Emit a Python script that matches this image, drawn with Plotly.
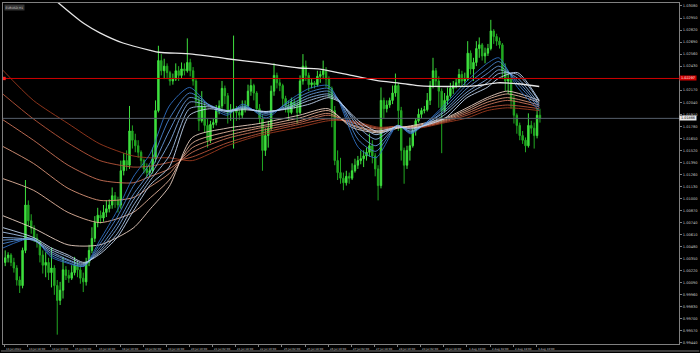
import plotly.graph_objects as go

# ---------------- candle data (EURUSD, 2-hour granularity) ----------------
open_ = [1.0031, 1.0036, 1.0039, 1.0031, 1.0025, 1.0012, 1.0006, 1.0044, 1.0093, 1.0076,
         1.0068, 1.0057, 1.0053, 1.0039, 1.0028, 1.0031, 1.0020, 1.0025, 1.0006, 0.9990,
         1.0001, 1.0023, 1.0017, 1.0014, 1.0020, 1.0028, 1.0023, 1.0014, 1.0010, 1.0031,
         1.0044, 1.0057, 1.0074, 1.0082, 1.0079, 1.0085, 1.0089, 1.0093, 1.0103, 1.0098,
         1.0093, 1.0130, 1.0141, 1.0136, 1.0173, 1.0163, 1.0157, 1.0150, 1.0141, 1.0132,
         1.0128, 1.0130, 1.0143, 1.0195, 1.0249, 1.0238, 1.0243, 1.0236, 1.0227, 1.0229,
         1.0238, 1.0233, 1.0240, 1.0238, 1.0247, 1.0238, 1.0227, 1.0206, 1.0184, 1.0200,
         1.0179, 1.0163, 1.0180, 1.0182, 1.0195, 1.0200, 1.0219, 1.0211, 1.0193, 1.0195,
         1.0197, 1.0193, 1.0190, 1.0197, 1.0200, 1.0216, 1.0222, 1.0214, 1.0197, 1.0186,
         1.0152, 1.0168, 1.0176, 1.0216, 1.0233, 1.0225, 1.0222, 1.0208, 1.0200, 1.0193,
         1.0204, 1.0201, 1.0193, 1.0227, 1.0243, 1.0233, 1.0223, 1.0225, 1.0223, 1.0232,
         1.0234, 1.0238, 1.0229, 1.0219, 1.0195, 1.0141, 1.0128, 1.0122, 1.0117, 1.0124,
         1.0122, 1.0130, 1.0136, 1.0141, 1.0143, 1.0146, 1.0150, 1.0157, 1.0146, 1.0132,
         1.0114, 1.0206, 1.0197, 1.0201, 1.0206, 1.0214, 1.0222, 1.0195, 1.0152, 1.0136,
         1.0152, 1.0157, 1.0173, 1.0184, 1.0191, 1.0195, 1.0196, 1.0206, 1.0222, 1.0238,
         1.0227, 1.0216, 1.0195, 1.0206, 1.0211, 1.0219, 1.0222, 1.0225, 1.0234, 1.0227,
         1.0229, 1.0257, 1.0240, 1.0247, 1.0262, 1.0266, 1.0254, 1.0257, 1.0262, 1.0281,
         1.0275, 1.0270, 1.0266, 1.0238, 1.0227, 1.0229, 1.0206, 1.0190, 1.0179, 1.0168,
         1.0163, 1.0157, 1.0179, 1.0176, 1.0168, 1.0190]

high = [1.0044, 1.0042, 1.0041, 1.0036, 1.0028, 1.0016, 1.0047, 1.0120, 1.0098, 1.0083,
        1.0071, 1.0062, 1.0055, 1.0044, 1.0042, 1.0036, 1.0047, 1.0028, 1.0012, 1.0010,
        1.0037, 1.0027, 1.0023, 1.0028, 1.0037, 1.0033, 1.0028, 1.0020, 1.0036, 1.0050,
        1.0069, 1.0081, 1.0090, 1.0087, 1.0093, 1.0098, 1.0099, 1.0112, 1.0107, 1.0102,
        1.0141, 1.0149, 1.0152, 1.0200, 1.0179, 1.0170, 1.0163, 1.0152, 1.0143, 1.0138,
        1.0136, 1.0155, 1.0206, 1.0265, 1.0256, 1.0251, 1.0246, 1.0238, 1.0235, 1.0246,
        1.0243, 1.0247, 1.0246, 1.0273, 1.0251, 1.0242, 1.0229, 1.0211, 1.0216, 1.0204,
        1.0186, 1.0184, 1.0186, 1.0201, 1.0206, 1.0227, 1.0222, 1.0214, 1.0202, 1.0276,
        1.0200, 1.0197, 1.0206, 1.0206, 1.0223, 1.0229, 1.0224, 1.0216, 1.0202, 1.0190,
        1.0176, 1.0184, 1.0222, 1.0246, 1.0236, 1.0230, 1.0224, 1.0211, 1.0206, 1.0209,
        1.0208, 1.0206, 1.0233, 1.0256, 1.0249, 1.0236, 1.0229, 1.0227, 1.0238, 1.0238,
        1.0249, 1.0242, 1.0232, 1.0221, 1.0200, 1.0152, 1.0144, 1.0128, 1.0130, 1.0128,
        1.0138, 1.0143, 1.0146, 1.0152, 1.0152, 1.0155, 1.0170, 1.0163, 1.0149, 1.0136,
        1.0220, 1.0209, 1.0206, 1.0209, 1.0222, 1.0235, 1.0225, 1.0199, 1.0155, 1.0157,
        1.0166, 1.0179, 1.0187, 1.0197, 1.0198, 1.0200, 1.0214, 1.0227, 1.0252, 1.0241,
        1.0232, 1.0219, 1.0214, 1.0220, 1.0225, 1.0227, 1.0230, 1.0240, 1.0238, 1.0236,
        1.0270, 1.0260, 1.0252, 1.0270, 1.0274, 1.0268, 1.0263, 1.0267, 1.0293, 1.0283,
        1.0278, 1.0274, 1.0268, 1.0246, 1.0238, 1.0232, 1.0211, 1.0192, 1.0182, 1.0173,
        1.0166, 1.0192, 1.0184, 1.0182, 1.0198, 1.0197]

low = [1.0027, 1.0031, 1.0027, 1.0020, 1.0006, 0.9998, 1.0003, 1.0041, 1.0070, 1.0062,
       1.0053, 1.0047, 1.0031, 1.0019, 1.0015, 1.0012, 1.0004, 0.9996, 0.9953, 0.9985,
       0.9992, 1.0012, 1.0009, 1.0012, 1.0017, 1.0015, 1.0008, 0.9999, 1.0006, 1.0027,
       1.0041, 1.0053, 1.0069, 1.0073, 1.0075, 1.0080, 1.0085, 1.0089, 1.0090, 1.0085,
       1.0089, 1.0125, 1.0130, 1.0132, 1.0154, 1.0150, 1.0144, 1.0134, 1.0127, 1.0122,
       1.0124, 1.0127, 1.0139, 1.0193, 1.0233, 1.0229, 1.0229, 1.0222, 1.0223, 1.0227,
       1.0227, 1.0230, 1.0233, 1.0236, 1.0232, 1.0222, 1.0200, 1.0173, 1.0182, 1.0171,
       1.0155, 1.0160, 1.0176, 1.0179, 1.0191, 1.0197, 1.0202, 1.0181, 1.0184, 1.0154,
       1.0184, 1.0185, 1.0187, 1.0193, 1.0198, 1.0211, 1.0206, 1.0193, 1.0181, 1.0130,
       1.0146, 1.0155, 1.0173, 1.0211, 1.0219, 1.0216, 1.0198, 1.0193, 1.0184, 1.0191,
       1.0197, 1.0181, 1.0191, 1.0223, 1.0227, 1.0216, 1.0219, 1.0219, 1.0221, 1.0225,
       1.0229, 1.0220, 1.0209, 1.0177, 1.0136, 1.0120, 1.0116, 1.0109, 1.0114, 1.0116,
       1.0120, 1.0128, 1.0132, 1.0137, 1.0134, 1.0141, 1.0145, 1.0138, 1.0124, 1.0098,
       1.0111, 1.0187, 1.0193, 1.0198, 1.0202, 1.0210, 1.0173, 1.0141, 1.0116, 1.0132,
       1.0141, 1.0155, 1.0168, 1.0182, 1.0187, 1.0192, 1.0194, 1.0201, 1.0219, 1.0221,
       1.0198, 1.0149, 1.0193, 1.0201, 1.0209, 1.0213, 1.0219, 1.0221, 1.0220, 1.0222,
       1.0227, 1.0234, 1.0227, 1.0243, 1.0252, 1.0249, 1.0246, 1.0254, 1.0260, 1.0267,
       1.0265, 1.0262, 1.0229, 1.0216, 1.0213, 1.0197, 1.0181, 1.0170, 1.0163, 1.0159,
       1.0150, 1.0155, 1.0170, 1.0154, 1.0165, 1.0182]

close = [1.0036, 1.0039, 1.0031, 1.0025, 1.0012, 1.0006, 1.0044, 1.0093, 1.0076, 1.0068,
         1.0057, 1.0053, 1.0039, 1.0028, 1.0031, 1.0020, 1.0025, 1.0006, 0.9990, 1.0001,
         1.0023, 1.0017, 1.0014, 1.0020, 1.0028, 1.0023, 1.0014, 1.0010, 1.0031, 1.0044,
         1.0057, 1.0074, 1.0082, 1.0079, 1.0085, 1.0089, 1.0093, 1.0103, 1.0098, 1.0093,
         1.0130, 1.0141, 1.0136, 1.0173, 1.0163, 1.0157, 1.0150, 1.0141, 1.0132, 1.0128,
         1.0130, 1.0143, 1.0195, 1.0249, 1.0238, 1.0243, 1.0236, 1.0227, 1.0229, 1.0238,
         1.0233, 1.0240, 1.0238, 1.0247, 1.0238, 1.0227, 1.0206, 1.0184, 1.0200, 1.0179,
         1.0163, 1.0180, 1.0182, 1.0195, 1.0200, 1.0219, 1.0211, 1.0193, 1.0195, 1.0197,
         1.0193, 1.0190, 1.0197, 1.0200, 1.0216, 1.0222, 1.0214, 1.0197, 1.0186, 1.0152,
         1.0168, 1.0176, 1.0216, 1.0233, 1.0225, 1.0222, 1.0208, 1.0200, 1.0193, 1.0204,
         1.0201, 1.0193, 1.0227, 1.0243, 1.0233, 1.0223, 1.0225, 1.0223, 1.0232, 1.0234,
         1.0238, 1.0229, 1.0219, 1.0195, 1.0141, 1.0128, 1.0122, 1.0117, 1.0124, 1.0122,
         1.0130, 1.0136, 1.0141, 1.0143, 1.0146, 1.0150, 1.0157, 1.0146, 1.0132, 1.0114,
         1.0206, 1.0197, 1.0201, 1.0206, 1.0214, 1.0222, 1.0195, 1.0152, 1.0136, 1.0152,
         1.0157, 1.0173, 1.0184, 1.0191, 1.0195, 1.0196, 1.0206, 1.0222, 1.0238, 1.0227,
         1.0216, 1.0195, 1.0206, 1.0211, 1.0219, 1.0222, 1.0225, 1.0234, 1.0227, 1.0229,
         1.0257, 1.0240, 1.0247, 1.0262, 1.0266, 1.0254, 1.0257, 1.0262, 1.0281, 1.0275,
         1.0270, 1.0266, 1.0238, 1.0227, 1.0229, 1.0206, 1.0190, 1.0179, 1.0168, 1.0163,
         1.0157, 1.0179, 1.0176, 1.0168, 1.0190, 1.01866]

# ---------------- moving-average lines (read at sample bar indices) ----------------
white_x = [18, 36, 55, 66, 82, 101, 107, 130, 154, 181, 204, 217, 240, 259, 272, 286, 309, 327, 341, 355, 370]
white_ma = [1.0338, 1.0313, 1.0289, 1.0279, 1.0268, 1.0260, 1.0258, 1.0256, 1.0251, 1.0246, 1.0241,
            1.0240, 1.0233, 1.0227, 1.0225, 1.0222, 1.0221, 1.0222, 1.0225, 1.0224, 1.0221]

blue_x = [-2, 20, 32, 44, 55, 66, 78, 89, 101, 114, 128, 142, 154, 165, 181, 197, 211, 224, 231,
          245, 257, 272, 281, 291, 305, 320, 334, 342, 355, 370]
blue_1 = [1.0046, 1.0057, 1.0037, 1.0030, 1.0027, 1.0055, 1.0087, 1.0123, 1.0149, 1.0200, 1.0220,
          1.0200, 1.0190, 1.0202, 1.0187, 1.0206, 1.0219, 1.0222, 1.0206, 1.0155, 1.0144, 1.0179,
          1.0170, 1.0181, 1.0202, 1.0227, 1.0246, 1.0252, 1.0220, 1.0195]
blue_2 = [1.0051, 1.0056, 1.0039, 1.0031, 1.0027, 1.0051, 1.0080, 1.0113, 1.0139, 1.0186, 1.0214,
          1.0201, 1.0192, 1.0200, 1.0190, 1.0204, 1.0215, 1.0219, 1.0207, 1.0163, 1.0151, 1.0179,
          1.0171, 1.0181, 1.0199, 1.0223, 1.0240, 1.0248, 1.0224, 1.0198]
blue_3 = [1.0055, 1.0055, 1.0041, 1.0033, 1.0028, 1.0047, 1.0073, 1.0104, 1.0130, 1.0173, 1.0209,
          1.0201, 1.0194, 1.0199, 1.0192, 1.0201, 1.0212, 1.0216, 1.0207, 1.0170, 1.0157, 1.0179,
          1.0172, 1.0180, 1.0196, 1.0219, 1.0235, 1.0243, 1.0227, 1.0200]
blue_4 = [1.0058, 1.0055, 1.0043, 1.0034, 1.0029, 1.0044, 1.0068, 1.0098, 1.0125, 1.0160, 1.0204,
          1.0200, 1.0195, 1.0198, 1.0193, 1.0199, 1.0209, 1.0213, 1.0207, 1.0177, 1.0164, 1.0179,
          1.0173, 1.0180, 1.0194, 1.0215, 1.0229, 1.0239, 1.0230, 1.0202]
blue_5 = [1.0064, 1.0056, 1.0045, 1.0037, 1.0030, 1.0042, 1.0062, 1.0092, 1.0120, 1.0146, 1.0197,
          1.0199, 1.0195, 1.0197, 1.0194, 1.0198, 1.0206, 1.0211, 1.0206, 1.0181, 1.0169, 1.0178,
          1.0175, 1.0179, 1.0191, 1.0212, 1.0225, 1.0235, 1.0234, 1.0205]
blue_6 = [1.0069, 1.0058, 1.0047, 1.0039, 1.0031, 1.0040, 1.0058, 1.0086, 1.0115, 1.0134, 1.0190,
          1.0197, 1.0194, 1.0196, 1.0194, 1.0197, 1.0202, 1.0209, 1.0205, 1.0184, 1.0173, 1.0177,
          1.0176, 1.0179, 1.0187, 1.0209, 1.0220, 1.0230, 1.0236, 1.0206]

red_x = [-2, 20, 44, 66, 89, 101, 114, 130, 154, 176, 204, 224, 240, 259, 272, 286, 305, 320, 334, 348, 370]
red_1 = [1.0240, 1.0206, 1.0181, 1.0159, 1.0146, 1.0144, 1.0144, 1.0141, 1.0157, 1.0168, 1.0177,
         1.0184, 1.0184, 1.0177, 1.0178, 1.0176, 1.0182, 1.0187, 1.0195, 1.0198, 1.0195]
red_2 = [1.0214, 1.0186, 1.0160, 1.0141, 1.0134, 1.0135, 1.0139, 1.0145, 1.0160, 1.0170, 1.0180,
         1.0186, 1.0183, 1.0176, 1.0178, 1.0177, 1.0183, 1.0190, 1.0198, 1.0201, 1.0197]
red_3 = [1.0186, 1.0163, 1.0136, 1.0120, 1.0117, 1.0124, 1.0132, 1.0150, 1.0165, 1.0173, 1.0182,
         1.0190, 1.0182, 1.0175, 1.0177, 1.0177, 1.0184, 1.0192, 1.0201, 1.0206, 1.0199]
red_4 = [1.0157, 1.0138, 1.0111, 1.0098, 1.0101, 1.0113, 1.0127, 1.0155, 1.0168, 1.0176, 1.0184,
         1.0192, 1.0180, 1.0173, 1.0177, 1.0178, 1.0185, 1.0194, 1.0204, 1.0209, 1.0201]
red_5 = [1.0122, 1.0109, 1.0085, 1.0074, 1.0085, 1.0101, 1.0120, 1.0160, 1.0172, 1.0178, 1.0187,
         1.0195, 1.0179, 1.0172, 1.0176, 1.0179, 1.0186, 1.0196, 1.0207, 1.0213, 1.0204]
red_6 = [1.0082, 1.0068, 1.0050, 1.0050, 1.0068, 1.0089, 1.0113, 1.0166, 1.0176, 1.0181, 1.0190,
         1.0197, 1.0177, 1.0171, 1.0176, 1.0180, 1.0187, 1.0198, 1.0209, 1.0216, 1.0206]

hline_price = 1.02297
bid_price = 1.01866

# ---------------- axis labels ----------------
x_label_pos = [0, 16, 32, 48, 64, 80, 96, 112, 128, 144, 160, 176, 192, 208, 224, 240,
               256, 272, 288, 304, 320, 336, 352, 368]
x_labels = ["13 Jul 2022", "13 Jul 18:00", "14 Jul 10:00", "15 Jul 02:00", "15 Jul 18:00",
            "18 Jul 10:00", "19 Jul 02:00", "19 Jul 18:00", "20 Jul 10:00", "21 Jul 02:00",
            "21 Jul 18:00", "22 Jul 10:00", "25 Jul 02:00", "25 Jul 18:00", "26 Jul 10:00",
            "27 Jul 02:00", "27 Jul 18:00", "28 Jul 10:00", "29 Jul 02:00", "29 Jul 18:00",
            "1 Aug 10:00", "2 Aug 02:00", "2 Aug 18:00", "3 Aug 10:00"]
# price-scale ticks; the 1.02300 label is hidden behind the red line's price tag
y_tick_values = [0.9944, 0.9957, 0.9970, 0.9983, 0.9996, 1.0009, 1.0022, 1.0035, 1.0048, 1.0061,
                 1.0074, 1.0087, 1.0100, 1.0113, 1.0126, 1.0139, 1.0152, 1.0165, 1.0178, 1.0191,
                 1.0204, 1.0217, 1.0230, 1.0243, 1.0256, 1.0269, 1.0282, 1.0295, 1.0308]
y_tick_labels = ["0.99440", "0.99570", "0.99700", "0.99830", "0.99960", "1.00090", "1.00220",
                 "1.00350", "1.00480", "1.00610", "1.00740", "1.00870", "1.01000", "1.01130",
                 "1.01260", "1.01390", "1.01520", "1.01650", "1.01780", "1.01910", "1.02040",
                 "1.02170", "", "1.02430", "1.02560", "1.02690", "1.02820", "1.02950",
                 "1.03080"]

# ---------------- figure ----------------
cx = [2 * k + 0.5 for k in range(len(close))]

fig = go.Figure()
fig.add_trace(go.Candlestick(
    x=cx, open=open_, high=high, low=low, close=close,
    increasing=dict(line=dict(color="#3ee03e", width=1), fillcolor="#3ee03e"),
    decreasing=dict(line=dict(color="#22a822", width=1), fillcolor="#22a822"),
    whiskerwidth=0, hoverinfo="skip"))

red_cols = ["#9c3a1e", "#b8553a", "#cc7358", "#da9478", "#e3b39c", "#ead0c2"]
for ys, col in zip([red_1, red_2, red_3, red_4, red_5, red_6], red_cols):
    fig.add_trace(go.Scatter(x=red_x, y=ys, mode="lines",
                             line=dict(color=col, width=0.9, shape="spline", smoothing=0.7),
                             hoverinfo="skip"))

blue_cols = ["#2f6fc4", "#4a84ce", "#6699d8", "#84aee0", "#a3c2e8", "#c3d6ef"]
for ys, col in zip([blue_1, blue_2, blue_3, blue_4, blue_5, blue_6], blue_cols):
    fig.add_trace(go.Scatter(x=blue_x, y=ys, mode="lines",
                             line=dict(color=col, width=0.9, shape="spline", smoothing=0.7),
                             hoverinfo="skip"))

fig.add_trace(go.Scatter(x=white_x, y=white_ma, mode="lines",
                         line=dict(color="#e6e6e6", width=1.3, shape="spline", smoothing=0.8),
                         hoverinfo="skip"))

shapes = [
    dict(type="line", xref="paper", yref="y", x0=0, x1=1, y0=hline_price, y1=hline_price,
         line=dict(color="#d00000", width=1)),
    dict(type="line", xref="paper", yref="y", x0=0, x1=1, y0=bid_price, y1=bid_price,
         line=dict(color="#56606c", width=1)),
    dict(type="rect", xref="paper", yref="y", x0=0.0, x1=0.004,
         y0=hline_price - 0.00018, y1=hline_price + 0.00018,
         fillcolor="#ff2020", line=dict(width=0)),
    dict(type="line", xref="paper", yref="paper", x0=-0.003, x1=1.03, y0=-0.0205, y1=-0.0205,
         line=dict(color="#7a7a7a", width=1)),
]

annotations = []
for pos, lab in zip(x_label_pos, x_labels):
    annotations.append(dict(x=pos - 0.3, y=-0.002, xref="x", yref="paper", text=lab,
                            showarrow=False, xanchor="left", yanchor="top",
                            font=dict(size=2.7, color="#c8c8c8", family="DejaVu Sans")))
annotations += [
    dict(x=1.0, y=hline_price, xref="paper", yref="y", text="1.02297", showarrow=False,
         xanchor="left", yanchor="middle", bgcolor="#d00000", borderpad=0, width=16, height=4,
         font=dict(size=3.4, color="#ffffff", family="DejaVu Sans")),
    dict(x=1.0, y=bid_price, xref="paper", yref="y", text="1.01866", showarrow=False,
         xanchor="left", yanchor="middle", bgcolor="#e8e8e8", borderpad=0, width=16, height=4,
         font=dict(size=3.4, color="#000000", family="DejaVu Sans")),
    dict(x=0.0015, y=0.997, xref="paper", yref="paper", text="EURUSD,H1", showarrow=False,
         xanchor="left", yanchor="top", bgcolor="#333333", borderpad=0.5,
         font=dict(size=3, color="#d0d0d0", family="DejaVu Sans")),
]

fig.update_layout(
    width=700, height=353,
    margin=dict(l=2, r=17, t=2, b=9),
    paper_bgcolor="#000000", plot_bgcolor="#000000",
    showlegend=False,
    shapes=shapes, annotations=annotations,
    xaxis=dict(range=[-1.03, 466.7], showgrid=False, zeroline=False,
               showline=True, linecolor="#808080", linewidth=1, mirror=True,
               tickvals=x_label_pos, ticks="outside", ticklen=2, tickcolor="#808080",
               showticklabels=False, rangeslider=dict(visible=False), fixedrange=True),
    yaxis=dict(range=[0.99429, 1.03112], side="right", showgrid=False, zeroline=False,
               showline=True, linecolor="#808080", linewidth=1, mirror=True,
               tickvals=y_tick_values, ticktext=y_tick_labels,
               ticks="outside", ticklen=2, tickcolor="#808080",
               tickfont=dict(size=3.6, color="#c8c8c8", family="DejaVu Sans"),
               fixedrange=True),
)

fig.write_html("out.html")
